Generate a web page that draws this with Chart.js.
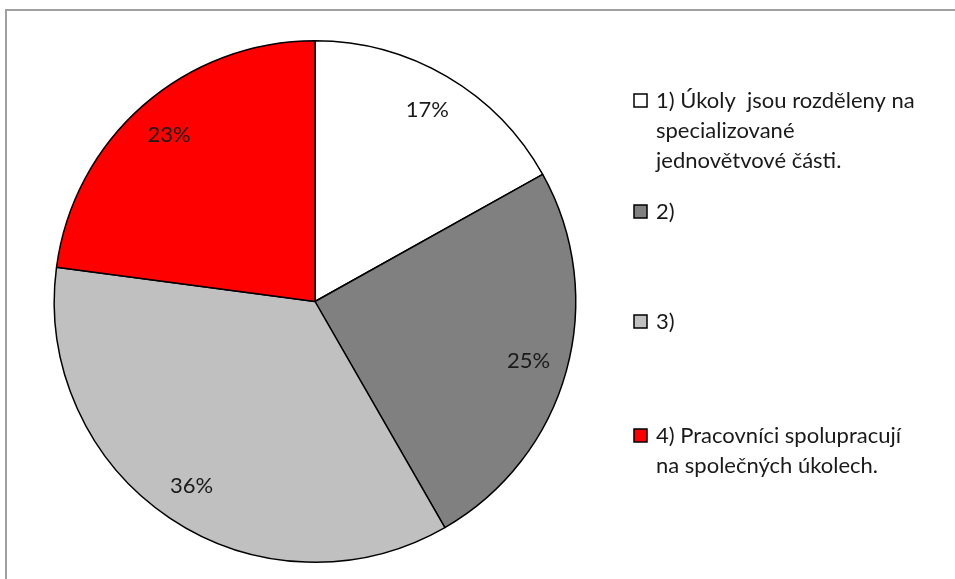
<!DOCTYPE html>
<html>
<head>
<meta charset="utf-8">
<script src="https://cdn.jsdelivr.net/npm/chart.js@4/dist/chart.umd.min.js"></script>
<style>
html,body{margin:0;padding:0;background:#fff;}
#wrap{width:955px;height:579px;position:relative;}
</style>
</head>
<body>
<div id="wrap"><canvas id="c" width="955" height="579"></canvas></div>
<script>
const categories = [
  "1) Úkoly jsou rozděleny na specializované jednovětvové části.",
  "2)",
  "3)",
  "4) Pracovníci spolupracují na společných úkolech."
];
const legendLines = [
  ["1) Úkoly  jsou rozděleny na", "specializované", "jednovětvové části."],
  ["2)"],
  ["3)"],
  ["4) Pracovníci spolupracují", "na společných úkolech."]
];
const values = [16.9, 24.8, 35.4, 22.9];
const percentLabels = ["17%", "25%", "36%", "23%"];
const colors = ["#FFFFFF", "#808080", "#C0C0C0", "#FF0000"];

const FONT = "Lato, 'Open Sans', sans-serif";
const legendY = [101, 212, 322, 436];
const lineH = 30;

const overlay = {
  id: 'overlay',
  beforeDraw(chart) {
    const ctx = chart.ctx;
    ctx.save();
    ctx.fillStyle = '#fff';
    ctx.fillRect(0, 0, chart.width, chart.height);
    ctx.strokeStyle = '#a0a0a0';
    ctx.lineWidth = 2;
    ctx.beginPath();
    ctx.moveTo(6, chart.height + 5);
    ctx.lineTo(6, 10);
    ctx.lineTo(chart.width + 5, 10);
    ctx.stroke();
    ctx.restore();
  },
  afterDraw(chart) {
    const ctx = chart.ctx;
    const meta = chart.getDatasetMeta(0);
    ctx.save();
    ctx.fillStyle = '#1a1a1a';
    ctx.font = "22px " + FONT;
    ctx.textAlign = 'center';
    ctx.textBaseline = 'middle';
    meta.data.forEach((arc, i) => {
      const p = arc.getProps(['x','y','startAngle','endAngle','outerRadius'], true);
      const mid = (p.startAngle + p.endAngle) / 2;
      const r = p.outerRadius * 0.85;
      ctx.fillText(percentLabels[i], p.x + Math.cos(mid) * r, p.y + Math.sin(mid) * r);
    });
    // legend
    ctx.textAlign = 'left';
    legendLines.forEach((lines, i) => {
      const y0 = legendY[i];
      ctx.fillStyle = colors[i];
      ctx.fillRect(634, y0 - 7, 13, 13);
      ctx.strokeStyle = '#000';
      ctx.lineWidth = 1.5;
      ctx.strokeRect(634, y0 - 7, 13, 13);
      ctx.fillStyle = '#1a1a1a';
      lines.forEach((t, j) => ctx.fillText(t, 656, y0 + j * lineH));
    });
    ctx.restore();
  }
};

new Chart(document.getElementById('c'), {
  type: 'pie',
  data: {
    labels: categories,
    datasets: [{
      data: values,
      backgroundColor: colors,
      borderColor: '#000',
      borderWidth: 1.5
    }]
  },
  options: {
    responsive: false,
    animation: false,
    layout: { padding: { left: 53, right: 378, top: 40, bottom: 16 } },
    plugins: { legend: { display: false }, tooltip: { enabled: false } }
  },
  plugins: [overlay]
});
</script>
</body>
</html>
